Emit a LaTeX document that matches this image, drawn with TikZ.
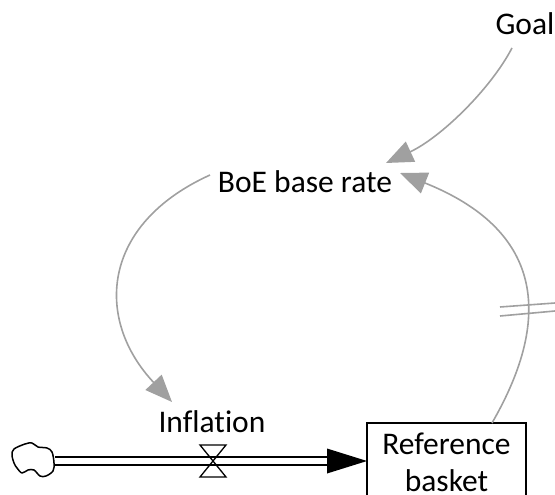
\documentclass[tikz,border=0pt]{standalone}
\usepackage{fontspec}
\setmainfont{Carlito}[Ligatures=CommonOff]
\usetikzlibrary{arrows.meta,calc}
\definecolor{linkgray}{HTML}{A0A0A0}
\begin{document}
\begin{tikzpicture}[x=1pt,y=-1pt,
  lbl/.style={font=\fontsize{31.5}{37}\selectfont, inner sep=3pt},
  link/.style={draw=linkgray, line width=1.6pt, -{Triangle[length=27pt,width=22pt]}},
  delaymark/.style={draw=linkgray, line width=1.6pt},
  pipe/.style={draw=black, line width=1.5pt, double=white, double distance=6.5pt},
  stock/.style={draw=black, line width=1.6pt, outer sep=0pt, inner sep=0pt,
    font=\fontsize{31.5}{37}\selectfont, align=center},
  cloudline/.style={draw=black, line width=1.5pt, line join=round},
  valveline/.style={draw=black, line width=1.3pt, line join=miter}]
\useasboundingbox (0,0) rectangle (555,495);
\clip (0,0) rectangle (555,495);

% labels / nodes
\node[lbl, anchor=base] (goal) at (525,35) {Goal};
\node[lbl, anchor=base] (boe) at (305,193) {BoE base rate};
\node[lbl, anchor=base] (inf) at (212,432) {Inflation};
\node[stock, anchor=north west, minimum width=159pt, minimum height=79pt] (ref) at (367,423) {Reference\\basket};

% cloud source
\coordinate (src) at (55,461);
\draw[cloudline] plot[smooth cycle, tension=0.55] coordinates {
  (14,449) (25,444) (32,443) (38,447) (47,448) (52,452) (54,463) (53,471)
  (46,476) (40,476) (34,470) (28,470) (22,473) (17,468) (14,463) (12,455)};

% flow pipe
\draw[pipe] (src) -- ($(ref.west|-src)+(-40,0)$);
\fill[black] (ref.west|-src) -- ++(-40,-12.5) -- ++(0,25) -- cycle;

% valve
\coordinate (valve) at (213,461);
\draw[valveline] ($(valve)+(-13,-16)$) -- ++(26,0) -- ++(-26,32) -- ++(26,0) -- cycle;

% links
\draw[link] ($(goal.base)+(-13,13)$) .. controls +(-22,42) and +(54,-25) .. ($(boe.base)+(81,-30)$);
\draw[link] ($(ref.north west)+(125,0)$) .. controls +(63,-109) and +(140,56) .. ($(boe.base)+(95,-20)$);
\draw[link] ($(boe.base)+(-95,-18)$) .. controls +(-110,50) and +(-77,-82) .. ($(inf.base)+(-40,-30)$);

% delay mark
\draw[delaymark] (500,307) -- (555,303);
\draw[delaymark] (500,316) -- (555,311);
\end{tikzpicture}
\end{document}
